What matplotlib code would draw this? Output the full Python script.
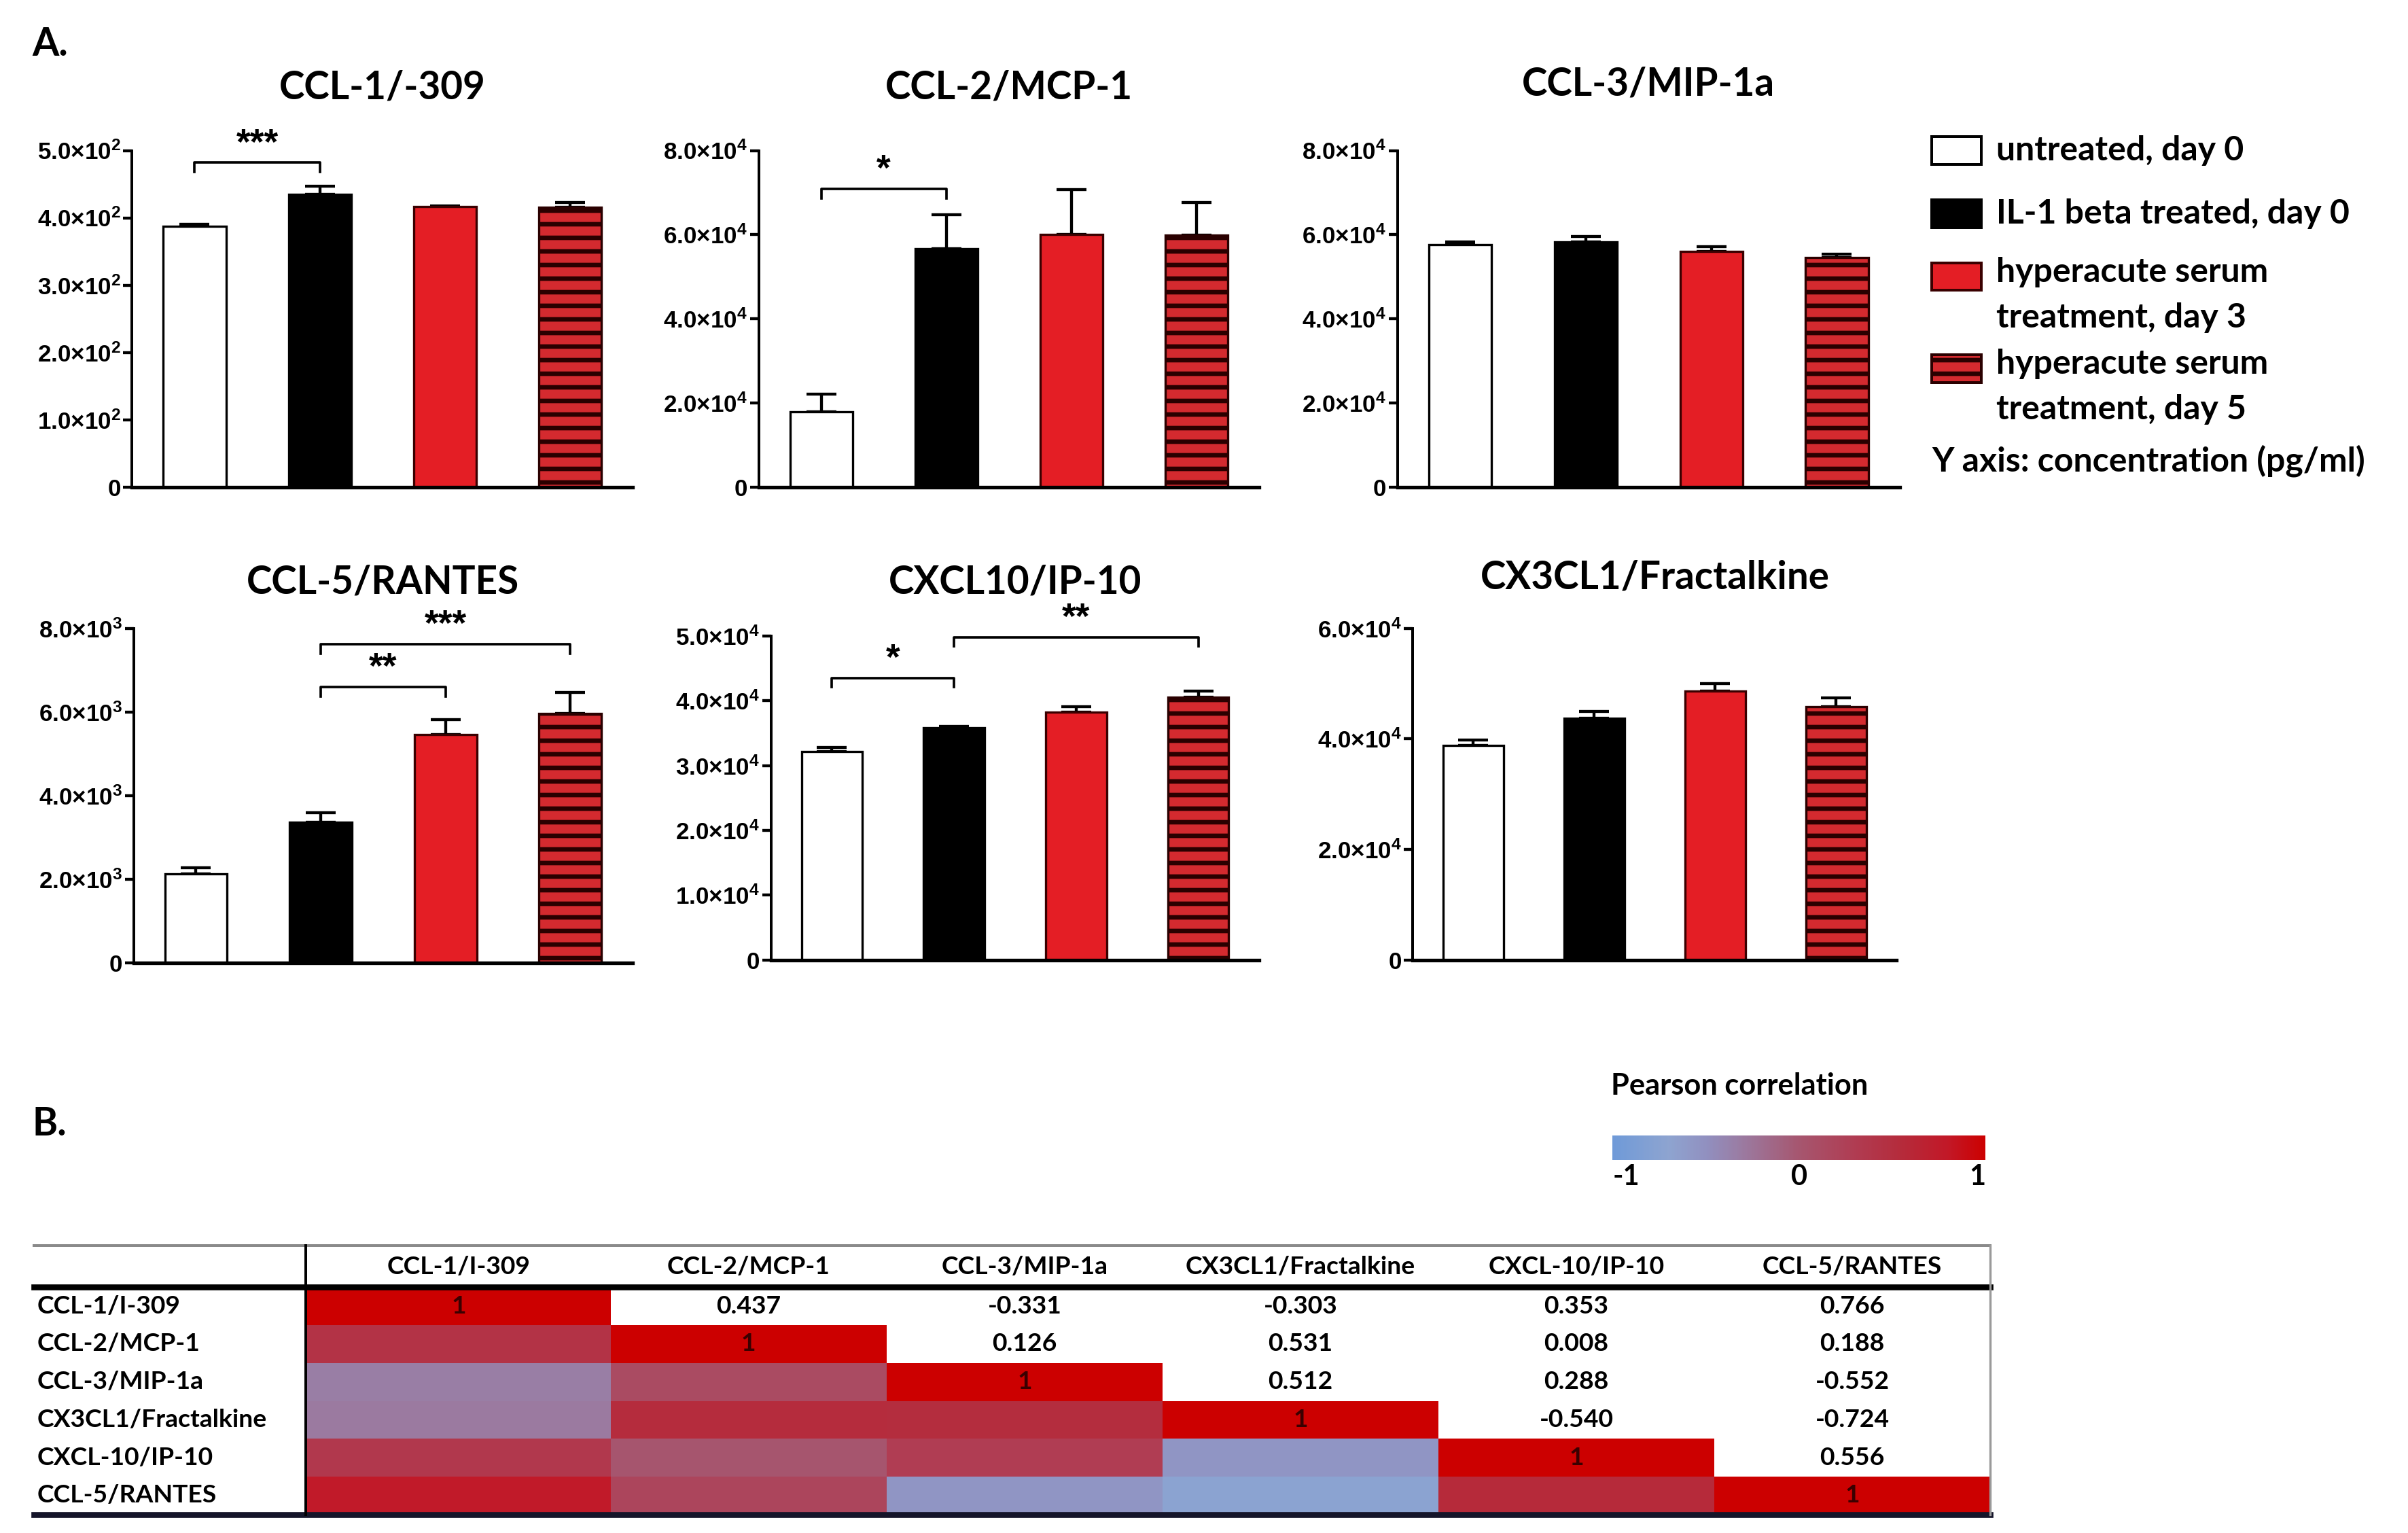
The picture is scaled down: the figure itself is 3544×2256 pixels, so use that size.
import numpy as np
import matplotlib
matplotlib.use("Agg")
import matplotlib.pyplot as plt
from matplotlib.patches import Rectangle
from matplotlib.lines import Line2D
from matplotlib.colors import LinearSegmentedColormap, Normalize
from matplotlib.cm import ScalarMappable
from matplotlib.transforms import blended_transform_factory

plt.rcParams.update({
    "font.family": ["Lato", "DejaVu Sans"],
    "font.weight": "bold",
    "mathtext.fontset": "custom",
    "mathtext.rm": "Liberation Sans:bold",
    "mathtext.it": "Liberation Sans:bold",
    "mathtext.bf": "Liberation Sans:bold",
    "hatch.linewidth": 2.0,
})

# ---- data ----
groups = ["untreated, day 0", "IL-1 beta treated, day 0",
          "hyperacute serum\ntreatment, day 3", "hyperacute serum\ntreatment, day 5"]
titles = ["CCL-1/-309", "CCL-2/MCP-1", "CCL-3/MIP-1a",
          "CCL-5/RANTES", "CXCL10/IP-10", "CX3CL1/Fractalkine"]

ccl1_mean = [387, 435, 417, 416]
ccl1_err = [3, 12, 1, 7]
ccl2_mean = [17900, 56700, 60100, 59900]
ccl2_err = [4200, 8100, 10600, 7700]
ccl3_mean = [57700, 58200, 56000, 54600]
ccl3_err = [600, 1300, 1200, 800]
ccl5_mean = [2130, 3370, 5460, 5970]
ccl5_err = [150, 230, 360, 490]
cxcl10_mean = [32200, 35800, 38200, 40600]
cxcl10_err = [600, 200, 900, 900]
cx3cl1_mean = [38800, 43700, 48600, 45800]
cx3cl1_err = [1000, 1300, 1400, 1600]

means = [ccl1_mean, ccl2_mean, ccl3_mean, ccl5_mean, cxcl10_mean, cx3cl1_mean]
errs = [ccl1_err, ccl2_err, ccl3_err, ccl5_err, cxcl10_err, cx3cl1_err]
y_max = [500, 8e4, 8e4, 8e3, 5e4, 6e4]
y_step = [100, 2e4, 2e4, 2e3, 1e4, 2e4]
y_exp = [2, 4, 4, 3, 4, 4]

# (panel, bar from, bar to, height, label)
brackets = [(0, 0, 1, 482, "***"), (1, 0, 1, 70900, "*"),
            (3, 1, 2, 6600, "**"), (3, 1, 3, 7620, "***"),
            (4, 0, 1, 43500, "*"), (4, 1, 3, 49800, "**")]

corr_names = ["CCL-1/I-309", "CCL-2/MCP-1", "CCL-3/MIP-1a",
              "CX3CL1/Fractalkine", "CXCL-10/IP-10", "CCL-5/RANTES"]
corr = np.array([
    [1.000, 0.437, -0.331, -0.303, 0.353, 0.766],
    [0.437, 1.000, 0.126, 0.531, 0.008, 0.188],
    [-0.331, 0.126, 1.000, 0.512, 0.288, -0.552],
    [-0.303, 0.531, 0.512, 1.000, -0.540, -0.724],
    [0.353, 0.008, 0.288, -0.540, 1.000, 0.556],
    [0.766, 0.188, -0.552, -0.724, 0.556, 1.000],
])

# ---- styles / layout ----
fills = ["white", "black", "#e41e25", "#d42a2f"]
edges = ["black", "black", "#3a0000", "#2a0000"]
hatches = [None, None, None, "--"]

W, H = 1568, 998
fig = plt.figure(figsize=(3544 / 240, 2256 / 240), dpi=240)


def fx(px):
    return px / W


def fy(py):
    return 1 - py / H


def add_ax(l, r, t, b):
    return fig.add_axes([fx(l), fy(b), fx(r) - fx(l), (b - t) / H])


def tick_fmt(exp):
    def f(v, pos):
        if abs(v) < 1e-9:
            return "0"
        return f"{v / 10 ** exp:.1f}×10$^{{{exp}}}$"
    return f


boxes = [(86, 412, 98, 317), (494, 820, 98, 317), (910, 1237, 98, 317),
         (87, 412, 409, 627), (502, 820, 414, 625), (920, 1235, 409, 625)]
title_y = [57, 57, 55, 379, 379, 376]

x = np.arange(4)
for k, (l, r, t, b) in enumerate(boxes):
    ax = add_ax(l, r, t, b)
    for i in range(4):
        ax.bar(x[i], means[k][i], width=0.5, color=fills[i], edgecolor=edges[i],
               linewidth=1.0, hatch=hatches[i], zorder=2)
    ax.errorbar(x, means[k], yerr=[np.zeros(4), errs[k]], fmt="none",
                ecolor="black", elinewidth=1.3, capsize=6.5, capthick=1.3, zorder=1)
    ax.set_xlim(-0.5, 3.5)
    ax.set_ylim(0, y_max[k])
    ax.set_yticks(np.arange(0, y_max[k] + 1, y_step[k]))
    ax.yaxis.set_major_formatter(plt.FuncFormatter(tick_fmt(y_exp[k])))
    ax.set_xticks([])
    ax.spines[["top", "right"]].set_visible(False)
    ax.spines["left"].set_linewidth(1.2)
    ax.spines["bottom"].set_linewidth(1.6)
    ax.tick_params(axis="y", direction="out", length=4, width=1.3, pad=1,
                   labelsize=10.5)
    for lab in ax.get_yticklabels():
        lab.set_family("Liberation Sans")
    ax.patch.set_alpha(0)
    d = 0.028 * y_max[k]
    for p, i, j, yy, lab in brackets:
        if p != k:
            continue
        ax.plot([i, i, j, j], [yy - d, yy, yy, yy - d], color="black", lw=1.1,
                clip_on=False)
        ax.annotate(lab, ((i + j) / 2, yy), xytext=(0, 0.5), textcoords="offset points",
                    ha="center", va="bottom", fontsize=16, family="Liberation Sans",
                    annotation_clip=False)
    fig.text(fx((l + r) / 2), fy(title_y[k]), titles[k], ha="center", va="center",
             fontsize=17, fontweight="bold")

fig.text(fx(21), fy(29), "A.", fontsize=17, fontweight="bold", va="center")
fig.text(fx(21), fy(732), "B.", fontsize=17, fontweight="bold", va="center")

# legend
leg_y = [98, 139, 180, 240]
for i, lab in enumerate(groups):
    fig.add_artist(Rectangle((fx(1258), fy(leg_y[i] + 9)), 32 / W, 18 / H,
                             transform=fig.transFigure, facecolor=fills[i],
                             edgecolor=edges[i], linewidth=1.2, hatch=hatches[i]))
    multi = "\n" in lab
    fig.text(fx(1300), fy(leg_y[i] - 13) if multi else fy(leg_y[i]), lab,
             ha="left", va="top" if multi else "center", fontsize=15,
             fontweight="bold", linespacing=1.6)
fig.text(fx(1258), fy(300), "Y axis: concentration (pg/ml)", ha="left", va="center",
         fontsize=15, fontweight="bold")

# correlation heatmap
cmap = LinearSegmentedColormap.from_list("pearson", [
    (0.0, "#6f9ad8"), (0.15, "#8ea4d0"), (0.25, "#9190c0"), (0.35, "#9b7aa0"),
    (0.5, "#a6566f"), (0.65, "#b03c52"), (0.775, "#b52b3b"), (0.9, "#c21827"),
    (1.0, "#cc0000")])
norm = Normalize(-1, 1)

n = len(corr_names)
col_w = [1.1, 1, 1, 1, 1, 1]
xe = np.concatenate([[0], np.cumsum(col_w)])
ye = np.arange(n + 1)
hm = add_ax(200, 1296, 838, 986)
masked = np.ma.masked_where(np.triu(np.ones((n, n)), 1) > 0, corr)
hm.pcolormesh(xe, ye, masked, cmap=cmap, norm=norm)
hm.set_xlim(0, xe[-1])
hm.set_ylim(n, 0)
hm.axis("off")
xc = (xe[:-1] + xe[1:]) / 2
for i in range(n):
    for j in range(n):
        if j > i:
            hm.text(xc[j], i + 0.5, f"{corr[i, j]:.3f}", ha="center", va="center",
                    fontsize=11.2, fontweight="bold")
        elif j == i:
            hm.text(xc[j], i + 0.5, "1", ha="center", va="center",
                    fontsize=11.2, fontweight="bold", color="#3a0000")
row_tr = blended_transform_factory(fig.transFigure, hm.transData)
col_tr = blended_transform_factory(hm.transData, fig.transFigure)
for i, name in enumerate(corr_names):
    fig.text(fx(24), i + 0.5, name, transform=row_tr, ha="left", va="center",
             fontsize=11.2, fontweight="bold")
    fig.text(xc[i], fy(825), name, transform=col_tr, ha="center", va="center",
             fontsize=11.2, fontweight="bold")

for (x0, x1, y0, y1, c, lw) in [
        (22, 1296, 811, 811, "#8a8a8a", 1.2), (22, 1296, 838, 838, "black", 2.6),
        (22, 1296, 986, 986, "#15152a", 2.6), (199, 199, 811, 986, "black", 1.2),
        (1296, 1296, 811, 986, "#9a9a9a", 1.0)]:
    fig.add_artist(Line2D([fx(x0), fx(x1)], [fy(y0), fy(y1)], transform=fig.transFigure,
                          color=c, lw=lw))

# colour scale
cax = add_ax(1050, 1293, 739, 755)
cb = fig.colorbar(ScalarMappable(norm=norm, cmap=cmap), cax=cax, orientation="horizontal",
                  ticks=[-1, 0, 1])
cb.outline.set_visible(False)
cax.set_xticklabels(["-1", "0", "1"])
cax.tick_params(length=0, labelsize=12.5, pad=2)
tl = cax.get_xticklabels()
tl[0].set_ha("left")
tl[-1].set_ha("right")
fig.text(fx(1049), fy(707), "Pearson correlation", ha="left", va="center",
         fontsize=13, fontweight="bold")

fig.savefig("out.png", dpi=240)
